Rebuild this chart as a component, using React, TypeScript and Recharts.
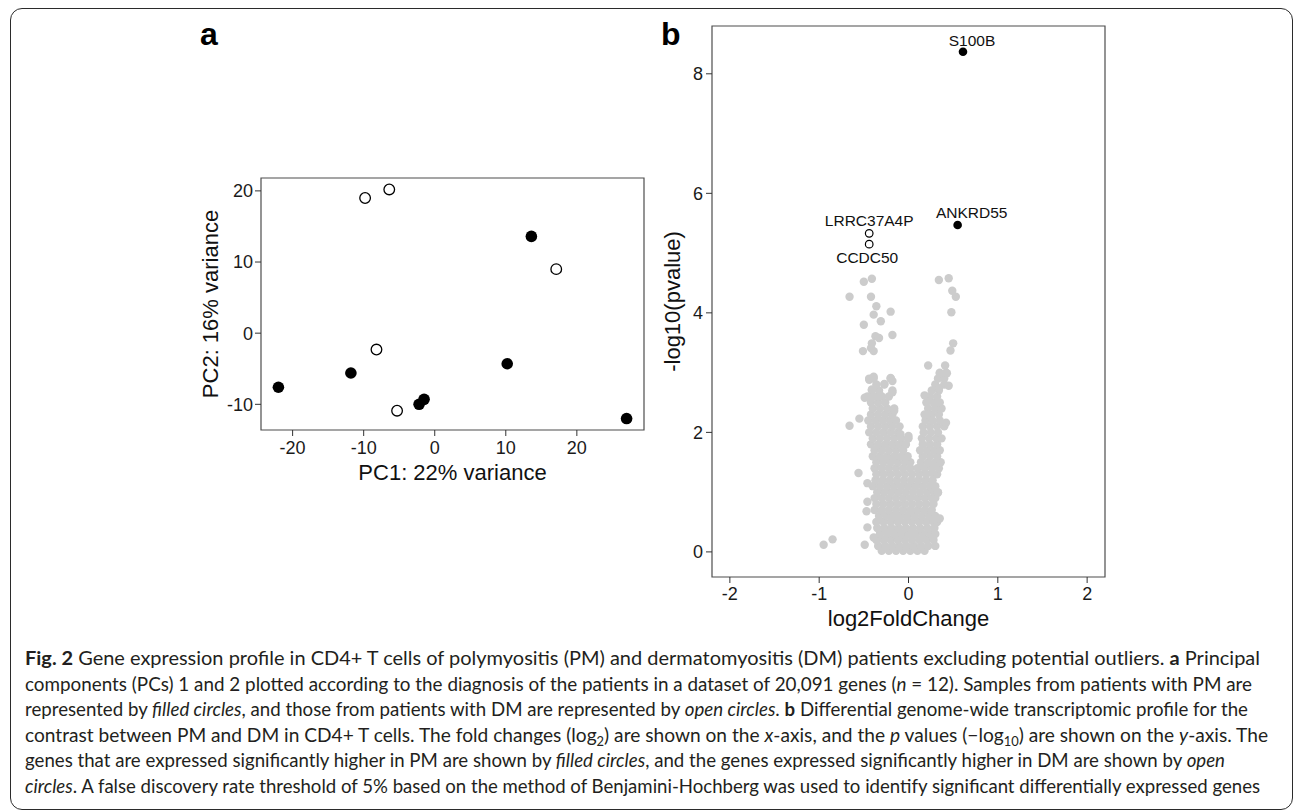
import React from 'react';
import { ScatterChart, Scatter, XAxis, YAxis, ReferenceArea, Label } from 'recharts';

// ---- panel a: PCA (PC1 / PC2) ----
const pmPC1 = [13.6, 10.2, -11.8, -22.0, -1.5, -2.2, 27.0];
const pmPC2 = [13.6, -4.3, -5.6, -7.6, -9.3, -10.0, -12.0];
const dmPC1 = [-9.8, -6.4, 17.1, -8.2, -5.3];
const dmPC2 = [19.0, 20.2, 9.0, -2.3, -10.9];
const pcXTicks = [-20, -10, 0, 10, 20];
const pcYTicks = [-10, 0, 10, 20];
const pcXDomain = [-24.45, 29.45];
const pcYDomain = [-13.61, 21.81];

// ---- panel b: volcano ----
const sigGenes = ['S100B', 'ANKRD55', 'LRRC37A4P', 'CCDC50'];
const sigLFC = [0.61, 0.55, -0.44, -0.44];
const sigLogP = [8.37, 5.47, 5.33, 5.15];
const sigHigherIn = ['PM', 'PM', 'DM', 'DM'];

// dense part of the grey cloud, one row per -log10(p) level: [y, x values]
const cloudRows: [number, number[]][] = [
  [0.02, [-0.30, -0.22, -0.14, -0.06, 0.02, 0.10, 0.18]],
  [0.1, [-0.34, -0.26, -0.18, -0.10, -0.02, 0.06, 0.14, 0.22, 0.30]],
  [0.2, [-0.36, -0.28, -0.20, -0.12, -0.04, 0.04, 0.12, 0.20, 0.28]],
  [0.3, [-0.32, -0.24, -0.16, -0.08, 0.00, 0.08, 0.16, 0.24, 0.30]],
  [0.4, [-0.35, -0.27, -0.19, -0.11, -0.03, 0.05, 0.13, 0.21, 0.29]],
  [0.5, [-0.36, -0.28, -0.20, -0.12, -0.04, 0.04, 0.12, 0.20, 0.28, 0.32]],
  [0.6, [-0.33, -0.25, -0.17, -0.09, -0.01, 0.07, 0.15, 0.23, 0.30]],
  [0.7, [-0.38, -0.30, -0.22, -0.14, -0.06, 0.02, 0.10, 0.18, 0.26]],
  [0.8, [-0.36, -0.28, -0.20, -0.12, -0.04, 0.04, 0.12, 0.20, 0.28]],
  [0.9, [-0.38, -0.30, -0.22, -0.14, -0.06, 0.02, 0.10, 0.18, 0.26, 0.30]],
  [1.0, [-0.35, -0.27, -0.19, -0.11, -0.03, 0.05, 0.13, 0.21, 0.29, 0.33]],
  [1.1, [-0.40, -0.32, -0.24, -0.16, -0.08, 0.00, 0.08, 0.16, 0.24, 0.30]],
  [1.2, [-0.37, -0.29, -0.21, -0.13, -0.05, 0.03, 0.11, 0.19, 0.27]],
  [1.3, [-0.36, -0.28, -0.20, -0.12, -0.04, 0.04, 0.12, 0.20, 0.28, 0.32]],
  [1.4, [-0.38, -0.30, -0.22, -0.14, -0.06, 0.02, 0.10, 0.18, 0.26, 0.34]],
  [1.5, [-0.36, -0.28, -0.20, -0.12, -0.04, 0.02, 0.14, 0.22, 0.30, 0.36]],
  [1.6, [-0.40, -0.32, -0.24, -0.16, -0.08, -0.01, 0.16, 0.24, 0.32]],
  [1.7, [-0.38, -0.30, -0.22, -0.14, -0.06, 0.13, 0.21, 0.29, 0.35]],
  [1.8, [-0.42, -0.34, -0.26, -0.18, -0.10, -0.03, 0.16, 0.24, 0.32]],
  [1.9, [-0.40, -0.32, -0.24, -0.16, -0.08, 0.00, 0.15, 0.23, 0.31, 0.37]],
  [2.0, [-0.44, -0.36, -0.28, -0.20, -0.12, 0.17, 0.25, 0.33]],
  [2.1, [-0.42, -0.34, -0.26, -0.18, -0.10, 0.16, 0.24, 0.32, 0.40]],
  [2.2, [-0.45, -0.37, -0.29, -0.21, -0.14, 0.19, 0.27, 0.35]],
  [2.3, [-0.42, -0.34, -0.26, -0.18, 0.18, 0.26, 0.34]],
  [2.4, [-0.40, -0.32, -0.24, -0.16, 0.22, 0.30, 0.37]],
  [2.5, [-0.42, -0.34, -0.26, 0.20, 0.28, 0.35]],
  [2.6, [-0.46, -0.38, -0.30, -0.22, 0.24, 0.32]],
  [2.7, [-0.41, -0.33, -0.18, 0.26, 0.34]],
  [2.8, [-0.36, -0.27, 0.30, 0.40]],
  [2.9, [-0.44, -0.39, -0.20, 0.33, 0.40]],
  [3.0, [0.35, 0.42]],
];

// scattered grey points outside the dense part: [log2FC, -log10(p)]
const cloudStray: [number, number][] = [
  [0.34, 4.55], [0.45, 4.58], [0.49, 4.37], [0.53, 4.27], [0.48, 4.01], [0.50, 3.49], [0.47, 3.37],
  [0.22, 3.12], [0.41, 3.12], [0.43, 2.99], [0.35, 2.98], [0.45, 2.78], [0.34, 2.74],
  [-0.50, 4.52], [-0.41, 4.57], [-0.66, 4.27], [-0.42, 4.27], [-0.36, 4.11], [-0.39, 3.97],
  [-0.31, 3.86], [-0.20, 4.02], [-0.50, 3.80], [-0.37, 3.61], [-0.33, 3.58], [-0.18, 3.63],
  [-0.41, 3.49], [-0.42, 3.41], [-0.51, 3.36], [-0.39, 3.36],
  [-0.44, 2.88], [-0.39, 2.93], [-0.20, 2.91], [-0.27, 2.81], [-0.18, 2.86], [-0.18, 2.67],
  [-0.41, 2.72], [-0.49, 2.58], [-0.31, 2.61], [-0.66, 2.11], [-0.55, 2.23], [-0.16, 2.36],
  [-0.09, 1.97], [0.00, 1.94], [-0.03, 1.80],
  [0.18, 2.62], [0.21, 2.30], [0.42, 2.16],
  [-0.56, 1.32], [-0.46, 1.15], [-0.46, 0.84], [-0.47, 0.68], [-0.46, 0.41], [-0.39, 0.24],
  [-0.49, 0.12], [-0.95, 0.12], [-0.85, 0.21], [0.35, 0.56], [0.33, 0.99],
];
const fcTicks = [-2, -1, 0, 1, 2];
const pTicks = [0, 2, 4, 6, 8];
const fcDomain = [-2.2, 2.2];
const pDomain = [-0.42, 8.8];

const pmPoints = pmPC1.map((x, i) => ({ x, y: pmPC2[i] }));
const dmPoints = dmPC1.map((x, i) => ({ x, y: dmPC2[i] }));
const cloudPoints = [
  ...cloudRows.flatMap(([y, xs]) => xs.map((x) => ({ x, y }))),
  ...cloudStray.map(([x, y]) => ({ x, y })),
];
const sigPoints = sigGenes.map((gene, i) => ({ gene, x: sigLFC[i], y: sigLogP[i], group: sigHigherIn[i] }));

// where each gene name sits relative to its point (px)
const labelOffset: Record<string, [number, number]> = {
  S100B: [9, -6],
  ANKRD55: [14, -7],
  LRRC37A4P: [0, -7],
  CCDC50: [-2, 19],
};

const FONT = '"Liberation Sans", Arial, Helvetica, sans-serif';
const tickStyle = { fill: '#1a1a1a', fontSize: 18, fontFamily: FONT };
const titleStyle = { fill: '#111', fontSize: 22, fontFamily: FONT, textAnchor: 'middle' as const };

const filledDot = (r: number) => (p: any) => <circle cx={p.cx} cy={p.cy} r={r} fill="#000" />;
const openDot = (r: number) => (p: any) => <circle cx={p.cx} cy={p.cy} r={r} fill="#fff" stroke="#000" strokeWidth={1.3} />;

const SigGene = (p: any) => {
  const gene = p.payload.gene;
  const [dx, dy] = labelOffset[gene] || [0, -7];
  return (
    <g>
      {p.payload.group === 'PM' ? (
        <circle cx={p.cx} cy={p.cy} r={4.3} fill="#000" />
      ) : (
        <circle cx={p.cx} cy={p.cy} r={3.8} fill="#fff" stroke="#000" strokeWidth={1.2} />
      )}
      <text x={p.cx + dx} y={p.cy + dy} textAnchor="middle" fontSize={15.5} fontFamily={FONT} fill="#111">
        {gene}
      </text>
    </g>
  );
};

type Seg = { t: string; b?: boolean; i?: boolean; sub?: boolean };
const captionLines: { segs: Seg[]; end: number }[] = [
  {
    end: 1260,
    segs: [
      { t: 'Fig. 2', b: true },
      { t: ' Gene expression profile in CD4+ T cells of polymyositis (PM) and dermatomyositis (DM) patients excluding potential outliers. ' },
      { t: 'a', b: true },
      { t: ' Principal' },
    ],
  },
  {
    end: 1252,
    segs: [
      { t: 'components (PCs) 1 and 2 plotted according to the diagnosis of the patients in a dataset of 20,091 genes (' },
      { t: 'n', i: true },
      { t: ' = 12). Samples from patients with PM are' },
    ],
  },
  {
    end: 1248,
    segs: [
      { t: 'represented by ' },
      { t: 'filled circles', i: true },
      { t: ', and those from patients with DM are represented by ' },
      { t: 'open circles', i: true },
      { t: '. ' },
      { t: 'b', b: true },
      { t: ' Differential genome-wide transcriptomic profile for the' },
    ],
  },
  {
    end: 1268,
    segs: [
      { t: 'contrast between PM and DM in CD4+ T cells. The fold changes (log' },
      { t: '2', sub: true },
      { t: ') are shown on the ' },
      { t: 'x', i: true },
      { t: '-axis, and the ' },
      { t: 'p', i: true },
      { t: ' values (\u2212log' },
      { t: '10', sub: true },
      { t: ') are shown on the ' },
      { t: 'y', i: true },
      { t: '-axis. The' },
    ],
  },
  {
    end: 1225,
    segs: [
      { t: 'genes that are expressed significantly higher in PM are shown by ' },
      { t: 'filled circles', i: true },
      { t: ', and the genes expressed significantly higher in DM are shown by ' },
      { t: 'open', i: true },
    ],
  },
  {
    end: 1260,
    segs: [
      { t: 'circles', i: true },
      { t: '. A false discovery rate threshold of 5% based on the method of Benjamini-Hochberg was used to identify significant differentially expressed genes' },
    ],
  },
];

const Caption = () => (
  <svg width={1295} height={170} style={{ position: 'absolute', left: 0, top: 640 }}>
    {captionLines.map((line, li) => {
      let prevSub = false;
      return (
        <text
          key={li}
          x={25}
          y={25 + li * 25.6}
          textLength={line.end - 25}
          lengthAdjust="spacingAndGlyphs"
          fontFamily='Lato, "Open Sans", sans-serif'
          fontSize={18.5}
          fill="#231f20"
        >
          {line.segs.map((s, si) => {
            let dy: number | undefined;
            if (s.sub) dy = 4;
            else if (prevSub) dy = -4;
            prevSub = !!s.sub;
            return (
              <tspan
                key={si}
                dy={dy}
                fontWeight={s.b ? 700 : 400}
                fontStyle={s.i ? 'italic' : 'normal'}
                fontSize={s.sub ? 12.5 : undefined}
              >
                {s.t}
              </tspan>
            );
          })}
        </text>
      );
    })}
  </svg>
);

export default function App() {
  return (
    <div style={{ position: 'absolute', left: 0, top: 0, width: 1295, height: 810, background: '#fff', overflow: 'hidden' }}>
      {/* outer frame */}
      <div
        style={{
          position: 'absolute', left: 10, top: 8, width: 1283, height: 802, boxSizing: 'border-box',
          border: '1.6px solid #2b2b2b', borderRadius: 12,
        }}
      />

      <div style={{ position: 'absolute', left: 200, top: 14, fontFamily: FONT, fontWeight: 700, fontSize: 32, lineHeight: '40px' }}>a</div>
      <div style={{ position: 'absolute', left: 661, top: 14, fontFamily: FONT, fontWeight: 700, fontSize: 32, lineHeight: '40px' }}>b</div>

      {/* panel a: PCA */}
      <div style={{ position: 'absolute', left: 180, top: 150 }}>
        <ScatterChart width={480} height={340} margin={{ top: 28, right: 16, bottom: 4, left: 0 }}>
          <XAxis
            type="number" dataKey="x" domain={pcXDomain} ticks={pcXTicks} allowDataOverflow
            axisLine={false} tickLine={{ stroke: '#333' }} tickSize={6} tickMargin={5} tick={tickStyle} height={56}
          >
            <Label value="PC1: 22% variance" position="insideBottom" offset={6} style={titleStyle} />
          </XAxis>
          <YAxis
            type="number" dataKey="y" domain={pcYDomain} ticks={pcYTicks} allowDataOverflow
            axisLine={false} tickLine={{ stroke: '#333' }} tickSize={6} tickMargin={2} tick={tickStyle} width={81}
          >
            <Label value="PC2: 16% variance" position="insideLeft" angle={-90} offset={30} style={titleStyle} />
          </YAxis>
          <ReferenceArea x1={pcXDomain[0]} x2={pcXDomain[1]} y1={pcYDomain[0]} y2={pcYDomain[1]} fill="none" stroke="#4d4d4d" strokeWidth={1.2} />
          <Scatter data={dmPoints} shape={openDot(5.3)} isAnimationActive={false} />
          <Scatter data={pmPoints} shape={filledDot(5.8)} isAnimationActive={false} />
        </ScatterChart>
      </div>

      {/* panel b: volcano */}
      <div style={{ position: 'absolute', left: 650, top: 10 }}>
        <ScatterChart width={470} height={640} margin={{ top: 16, right: 15, bottom: 19, left: 0 }}>
          <XAxis
            type="number" dataKey="x" domain={fcDomain} ticks={fcTicks} allowDataOverflow
            axisLine={false} tickLine={{ stroke: '#333' }} tickSize={6} tickMargin={4} tick={tickStyle} height={54}
          >
            <Label value="log2FoldChange" position="insideBottom" offset={5} style={titleStyle} />
          </XAxis>
          <YAxis
            type="number" dataKey="y" domain={pDomain} ticks={pTicks} allowDataOverflow
            axisLine={false} tickLine={{ stroke: '#333' }} tickSize={6} tickMargin={3} tick={tickStyle} width={62}
          >
            <Label value="-log10(pvalue)" position="insideLeft" angle={-90} offset={22} style={titleStyle} />
          </YAxis>
          <ReferenceArea x1={fcDomain[0]} x2={fcDomain[1]} y1={pDomain[0]} y2={pDomain[1]} fill="none" stroke="#4d4d4d" strokeWidth={1.2} />
          <Scatter data={cloudPoints} shape={(p: any) => <circle cx={p.cx} cy={p.cy} r={4.2} fill="#cccccc" />} isAnimationActive={false} />
          <Scatter data={sigPoints} shape={SigGene} isAnimationActive={false} />
        </ScatterChart>
      </div>

      <Caption />
    </div>
  );
}
